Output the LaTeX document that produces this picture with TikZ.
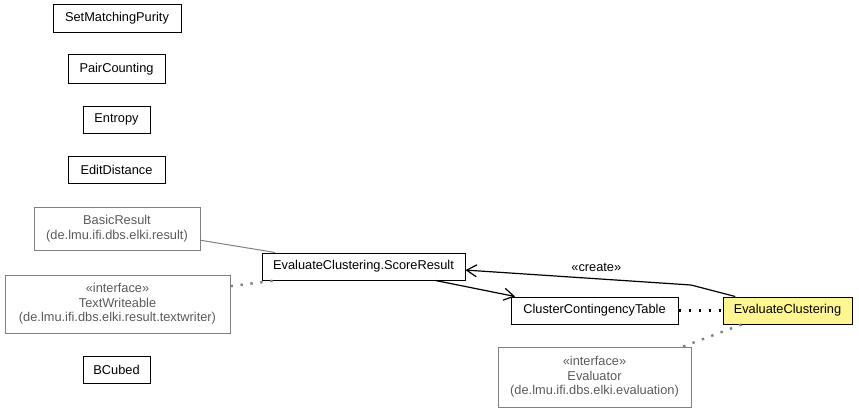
\documentclass[tikz,border=0pt]{standalone}
\usepackage{fontspec}
\setmainfont{Liberation Sans}
\usetikzlibrary{positioning,arrows.meta,calc}

\definecolor{extline}{HTML}{808080}
\definecolor{exttext}{HTML}{5A5A5A}
\definecolor{selfill}{HTML}{FFF68F}

\tikzset{
  cls/.style={draw=black,line width=1pt,inner sep=0pt,align=center,
    font=\fontsize{12.8}{14.5}\selectfont},
  ext/.style={cls,draw=extline,text=exttext},
  sel/.style={cls,fill=selfill},
  dep/.style={line width=2.4pt,dash pattern=on 2.4pt off 7.6pt},
  barb/.style={-{Straight Barb[length=10pt,width=12pt,line width=1.2pt]},line width=1.2pt}
}

\begin{document}
\begin{tikzpicture}[x=1pt,y=-1pt]
\useasboundingbox (0,0) rectangle (859,412);

\node[cls,minimum width=128,minimum height=28] (purity) at (117,18.5) {SetMatchingPurity};
\node[cls,minimum width=97,minimum height=28] (paircount) at (116.5,69) {PairCounting};
\node[cls,minimum width=67,minimum height=27] (entropy) at (116.5,119.5) {Entropy};
\node[cls,minimum width=97,minimum height=27] (editdist) at (116.5,170) {EditDistance};
\node[ext,minimum width=166,minimum height=43] (basicres) at (117,228.5) {BasicResult\\(de.lmu.ifi.dbs.elki.result)};
\node[ext,minimum width=225,minimum height=58] (textwr) at (117.5,304) {«interface»\\TextWriteable\\(de.lmu.ifi.dbs.elki.result.textwriter)};
\node[cls,minimum width=67,minimum height=27] (bcubed) at (116.5,370) {BCubed};

\node[cls,minimum width=203,minimum height=27] (scoreres) at (363.5,266.5) {EvaluateClustering.ScoreResult};
\node[cls,minimum width=167,minimum height=27] (conttable) at (594.5,310.5) {ClusterContingencyTable};
\node[sel,minimum width=129,minimum height=27] (evalclust) at (787.5,310.5) {EvaluateClustering};
\node[ext,minimum width=193,minimum height=60] (evaluator) at (594.5,377) {«interface»\\Evaluator\\(de.lmu.ifi.dbs.elki.evaluation)};

\coordinate (bend) at (691,285);

% inheritance and interfaces
\draw[extline,line width=1pt] (basicres.-8) -- (scoreres.171);
\draw[dep,extline] (textwr.9) -- (scoreres.189);
\draw[dep,extline] (evaluator.19) -- (evalclust.197);

% associations
\draw[barb] (scoreres.-11) -- (conttable.170);
\draw[barb] (evalclust.165) -- (bend) -- node[pos=0.42,above=3pt,font=\fontsize{12.8}{14.5}\selectfont] (createlbl) {«create»} (scoreres.-2);
\draw[dep] (conttable.east) -- (evalclust.west);

\end{tikzpicture}
\end{document}
